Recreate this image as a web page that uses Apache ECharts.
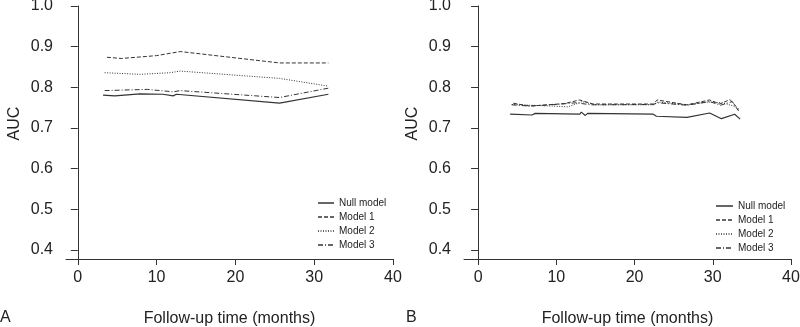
<!DOCTYPE html>
<html>
<head>
<meta charset="utf-8">
<script src="https://cdn.jsdelivr.net/npm/echarts@6/dist/echarts.min.js"></script>
<style>
  html, body { margin: 0; padding: 0; background: #fff; }
  #chart { width: 800px; height: 327px; }
</style>
</head>
<body>
<div id="chart"></div>
<script>
// tick labels
const xTicks = [0, 10, 20, 30, 40]
const yTicks = [0.4, 0.5, 0.6, 0.7, 0.8, 0.9, 1.0]
const modelNames = ['Null model', 'Model 1', 'Model 2', 'Model 3']

// panel A: follow-up time (months) and AUC per model
const aNullT = [3.2, 4.7, 7.9, 10.8, 12.1, 12.5, 25.6, 31.8]
const aNullV = [0.781, 0.779, 0.784, 0.783, 0.779, 0.783, 0.761, 0.783]
const aM1T = [3.7, 5.5, 10.0, 13.0, 25.6, 31.8]
const aM1V = [0.874, 0.871, 0.878, 0.888, 0.860, 0.860]
const aM2T = [3.4, 7.9, 11.7, 13.0, 25.6, 31.8]
const aM2V = [0.836, 0.832, 0.836, 0.840, 0.822, 0.803]
const aM3T = [3.4, 8.8, 12.1, 13.0, 25.6, 31.8]
const aM3V = [0.792, 0.795, 0.789, 0.792, 0.775, 0.798]

// panel B
const bNullT = [4.1, 6.9, 7.3, 13.0, 13.2, 13.7, 14.0, 22.4, 22.8, 26.7, 29.6, 31.1, 32.8, 33.5]
const bNullV = [0.734, 0.732, 0.736, 0.734, 0.739, 0.731, 0.736, 0.734, 0.729, 0.726, 0.737, 0.723, 0.734, 0.722]
const bM1T = [4.5, 6.6, 11.0, 13.0, 14.7, 22.4, 22.9, 26.7, 29.6, 30.9, 32.2, 33.2]
const bM1V = [0.761, 0.754, 0.760, 0.769, 0.759, 0.759, 0.769, 0.757, 0.769, 0.759, 0.770, 0.748]
const bM2T = [4.3, 6.6, 9.5, 11.5, 13.3, 15.0, 22.4, 23.0, 26.7, 29.5, 31.2, 32.5, 33.5]
const bM2V = [0.758, 0.756, 0.754, 0.752, 0.765, 0.757, 0.757, 0.764, 0.757, 0.764, 0.762, 0.755, 0.745]
const bM3T = [4.3, 6.6, 10.0, 12.5, 14.5, 22.4, 23.0, 26.7, 29.6, 31.0, 32.5, 33.3]
const bM3V = [0.757, 0.754, 0.758, 0.762, 0.757, 0.758, 0.762, 0.756, 0.765, 0.756, 0.765, 0.742]

const ink = '#222'
const lineInk = '#333'
const font = 'Liberation Sans, Arial, sans-serif'

const dashStyles = ['solid', [4, 2], [1, 1.5], [5, 2, 1, 2]]

const pairs = (t, v) => t.map((x, i) => [x, v[i]])

function makeSeries(panel, sets) {
  return sets.map((s, i) => ({
    name: modelNames[i],
    type: 'line',
    xAxisIndex: panel,
    yAxisIndex: panel,
    data: pairs(s[0], s[1]),
    showSymbol: false,
    symbol: 'none',
    silent: true,
    animation: false,
    lineStyle: { color: lineInk, width: i === 0 ? 1.2 : 1, type: dashStyles[i] },
    itemStyle: { color: lineInk },
  }))
}

function xAxis(grid, min) {
  return {
    type: 'value',
    gridIndex: grid,
    min: min,
    max: 40,
    name: 'Follow-up time (months)',
    nameLocation: 'middle',
    nameGap: 52,
    nameTextStyle: { color: ink, fontSize: 16, fontFamily: font },
    axisLine: { show: true, onZero: false, lineStyle: { color: lineInk, width: 1 } },
    axisTick: { show: true, length: 6, customValues: xTicks, lineStyle: { color: lineInk } },
    axisLabel: { customValues: xTicks, color: ink, fontSize: 16, fontFamily: font, margin: 11 },
    splitLine: { show: false },
  }
}

function yAxis(grid) {
  return {
    type: 'value',
    gridIndex: grid,
    min: 0.378,
    max: 1.0,
    name: 'AUC',
    nameLocation: 'middle',
    nameGap: 43,
    nameRotate: 90,
    nameTextStyle: { color: ink, fontSize: 16, fontFamily: font, padding: [0, 0, 0, 18] },
    axisLine: { show: true, lineStyle: { color: lineInk, width: 1 } },
    axisTick: { show: true, length: 7, customValues: yTicks, lineStyle: { color: lineInk } },
    axisLabel: {
      customValues: yTicks,
      color: ink,
      fontSize: 16,
      fontFamily: font,
      margin: 13,
      formatter: (v) => Number(v).toFixed(1),
    },
    splitLine: { show: false },
  }
}

function legend(left, top, w) {
  return {
    data: modelNames,
    orient: 'vertical',
    left: left,
    top: top,
    itemWidth: w,
    itemHeight: 10,
    itemGap: 4,
    padding: 0,
    selectedMode: false,
    itemStyle: { color: 'transparent', borderColor: 'transparent', borderWidth: 0, opacity: 0 },
    lineStyle: { color: '#666' },
    textStyle: { color: ink, fontSize: 10, fontFamily: font, lineHeight: 10 },
  }
}

const chart = echarts.init(document.getElementById('chart'), null, { renderer: 'canvas' })

chart.setOption({
  backgroundColor: '#fff',
  animation: false,
  grid: [
    { left: 66, right: 407, top: 6, bottom: 68, outerBoundsMode: 'none', containLabel: false },
    { left: 464, right: 9, top: 6, bottom: 68, outerBoundsMode: 'none', containLabel: false },
  ],
  xAxis: [xAxis(0, -1.5), xAxis(1, -1.8)],
  yAxis: [yAxis(0), yAxis(1)],
  legend: [legend(317, 198, 16), legend(715, 201, 17)],
  graphic: [
    { type: 'text', left: 0, top: 310, style: { text: 'A', fill: ink, fontSize: 16, fontFamily: font } },
    { type: 'text', left: 406, top: 310, style: { text: 'B', fill: ink, fontSize: 16, fontFamily: font } },
  ],
  series: [
    ...makeSeries(0, [[aNullT, aNullV], [aM1T, aM1V], [aM2T, aM2V], [aM3T, aM3V]]),
    ...makeSeries(1, [[bNullT, bNullV], [bM1T, bM1V], [bM2T, bM2V], [bM3T, bM3V]]),
  ],
})
</script>
</body>
</html>
